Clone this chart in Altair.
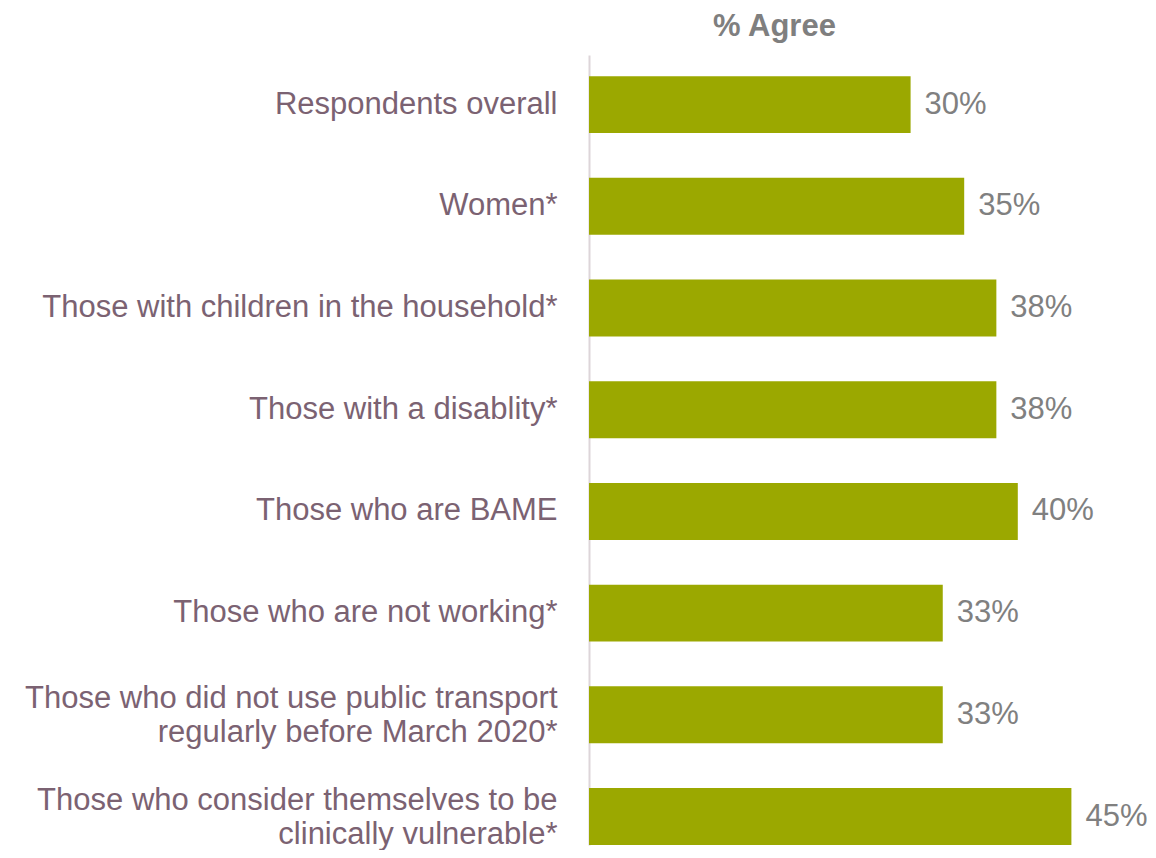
import altair as alt
import pandas as pd

categories = [
    "Respondents overall",
    "Women*",
    "Those with children in the household*",
    "Those with a disablity*",
    "Those who are BAME",
    "Those who are not working*",
    "Those who did not use public transport|regularly before March 2020*",
    "Those who consider themselves to be|clinically vulnerable*",
]
values = [30, 35, 38, 38, 40, 33, 33, 45]

df = pd.DataFrame({"cat": categories, "val": values})
df["lab"] = df["val"].astype(str) + "%"

y = alt.Y(
    "cat:N",
    sort=categories,
    title=None,
    scale=alt.Scale(paddingInner=0.44, paddingOuter=0.104, align=1),
    axis=alt.Axis(
        labelExpr="split(datum.label, '|')",
        labelFont="Liberation Sans",
        labelFontSize=31,
        labelColor="#7b6272",
        labelPadding=32,
        labelLineHeight=34,
        labelOffset={"condition": {"test": "indexof(datum.label, '|') >= 0", "value": -16}, "value": 0},
        ticks=False,
        domainColor="#ddd5d9",
        domainWidth=2,
        labelLimit=0,
    ),
)
x = alt.X(
    "val:Q",
    title=None,
    scale=alt.Scale(domain=[0, 50]),
    axis=None,
)

bars = alt.Chart(df).mark_bar(color="#9ba800").encode(x=x, y=y)
text = alt.Chart(df).mark_text(
    align="left", baseline="middle", dx=14,
    font="Liberation Sans", fontSize=31, color="#808080",
).encode(x=x, y=y, text="lab:N")

chart = alt.layer(bars, text).properties(
    width=536,
    height=790,
    title=alt.TitleParams(
        "% Agree", anchor="start", frame="group", dx=124, offset=12,
        font="Liberation Sans", fontSize=31, fontWeight="bold", color="#7f7f7f",
    ),
    autosize=alt.AutoSizeParams(type="none"),
    padding={"left": 581, "top": 47, "right": 22, "bottom": 5},
).configure_view(stroke=None)

chart.save("out.html", embed_options={"renderer": "svg", "actions": False})
